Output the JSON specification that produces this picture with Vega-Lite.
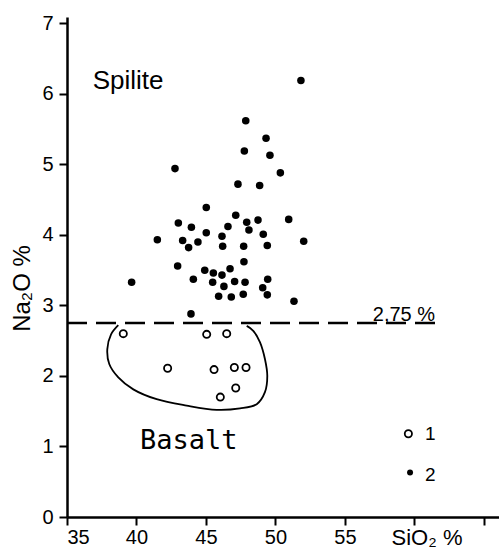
{
  "$schema": "https://vega.github.io/schema/vega-lite/v6.json",
  "autosize": {"type": "none"},
  "padding": {"left": 67, "top": 17, "right": 0, "bottom": 34},
  "width": 432,
  "height": 500,
  "background": "white",
  "config": {"view": {"stroke": null}, "font": "Liberation Sans"},
  "encoding": {
    "x": {"field": "x", "type": "quantitative",
      "scale": {"domain": [35, 66.08], "nice": false, "zero": false},
      "axis": {"values": [35, 40, 45, 50, 55, 60, 65], "grid": false, "title": null,
        "labelExpr": "datum.value == 60 ? 'SiO₂ %' : (datum.value == 65 ? '' : datum.label)",
        "labelFontSize": {"condition": {"test": "datum.value == 60", "value": 22}, "value": 20},
        "labelOffset": {"condition": {"test": "datum.value == 60", "value": 12}, "value": 0},
        "labelColor": "black", "labelFont": "Liberation Sans", "labelPadding": 2,
        "domainColor": "black", "domainWidth": 2.5, "tickColor": "black", "tickWidth": 2, "tickSize": 8}},
    "y": {"field": "y", "type": "quantitative",
      "scale": {"domain": [0, 7.09], "nice": false, "zero": false},
      "axis": {"values": [0, 1, 2, 3, 4, 5, 6, 7], "grid": false,
        "title": "Na₂O %", "titleFont": "Liberation Sans", "titleFontSize": 24, "titleFontWeight": "normal",
        "titleColor": "black", "titleX": -45, "titleY": 271, "titleAlign": "center", "titleBaseline": "middle", "titleAngle": -90,
        "labelColor": "black", "labelFont": "Liberation Sans", "labelFontSize": 20, "labelPadding": 6,
        "domainColor": "black", "domainWidth": 2.5, "tickColor": "black", "tickWidth": 2, "tickSize": 8}}
  },
  "layer": [
    {
      "data": {"values": [{"x": 35, "x2": 62, "y": 2.75}]},
      "mark": {"type": "rule", "stroke": "black", "strokeWidth": 2.5, "strokeDash": [20, 9]},
      "encoding": {"x2": {"field": "x2"}}
    },
    {
      "data": {"values": [
        {"o": 1, "x": 38.69, "y": 2.72},
        {"o": 2, "x": 38.17, "y": 2.59},
        {"o": 3, "x": 37.90, "y": 2.38},
        {"o": 4, "x": 38.04, "y": 2.17},
        {"o": 5, "x": 38.69, "y": 1.98},
        {"o": 6, "x": 39.77, "y": 1.81},
        {"o": 7, "x": 41.45, "y": 1.67},
        {"o": 8, "x": 43.61, "y": 1.58},
        {"o": 9, "x": 45.77, "y": 1.52},
        {"o": 10, "x": 47.45, "y": 1.54},
        {"o": 11, "x": 48.65, "y": 1.60},
        {"o": 12, "x": 49.24, "y": 1.77},
        {"o": 13, "x": 49.41, "y": 2.00},
        {"o": 14, "x": 49.24, "y": 2.24},
        {"o": 15, "x": 48.88, "y": 2.48},
        {"o": 16, "x": 48.40, "y": 2.64},
        {"o": 17, "x": 47.93, "y": 2.71}
      ]},
      "mark": {"type": "line", "stroke": "black", "strokeWidth": 1.8, "interpolate": "catmull-rom"},
      "encoding": {"order": {"field": "o", "type": "quantitative"}}
    },
    {
      "data": {"values": [
        {"x": 47.86, "y": 5.62}, {"x": 49.32, "y": 5.37}, {"x": 47.76, "y": 5.19}, {"x": 49.6, "y": 5.13},
        {"x": 42.77, "y": 4.94}, {"x": 50.35, "y": 4.88}, {"x": 47.30, "y": 4.72}, {"x": 48.86, "y": 4.70},
        {"x": 51.83, "y": 6.19}, {"x": 45.02, "y": 4.39}, {"x": 47.14, "y": 4.28}, {"x": 43.01, "y": 4.17},
        {"x": 43.95, "y": 4.11}, {"x": 47.93, "y": 4.18}, {"x": 48.74, "y": 4.21}, {"x": 50.95, "y": 4.22},
        {"x": 46.58, "y": 4.12}, {"x": 48.09, "y": 4.07}, {"x": 45.02, "y": 4.03}, {"x": 41.50, "y": 3.93},
        {"x": 43.32, "y": 3.92}, {"x": 44.42, "y": 3.90}, {"x": 43.75, "y": 3.82}, {"x": 46.15, "y": 3.98},
        {"x": 46.20, "y": 3.84}, {"x": 47.71, "y": 3.84}, {"x": 49.12, "y": 4.01}, {"x": 49.41, "y": 3.85},
        {"x": 52.03, "y": 3.91}, {"x": 47.73, "y": 3.62}, {"x": 42.96, "y": 3.56}, {"x": 44.91, "y": 3.50},
        {"x": 45.53, "y": 3.46}, {"x": 46.15, "y": 3.43}, {"x": 46.73, "y": 3.52}, {"x": 44.09, "y": 3.37},
        {"x": 45.48, "y": 3.33}, {"x": 47.06, "y": 3.34}, {"x": 47.81, "y": 3.33}, {"x": 49.44, "y": 3.37},
        {"x": 46.29, "y": 3.27}, {"x": 49.08, "y": 3.25}, {"x": 45.91, "y": 3.13}, {"x": 46.82, "y": 3.12},
        {"x": 47.68, "y": 3.16}, {"x": 49.41, "y": 3.15}, {"x": 51.33, "y": 3.06}, {"x": 43.92, "y": 2.88},
        {"x": 39.65, "y": 3.33}
      ]},
      "mark": {"type": "point", "shape": "circle", "filled": true, "fill": "black", "opacity": 1, "size": 57}
    },
    {
      "data": {"values": [
        {"x": 39.05, "y": 2.60}, {"x": 45.05, "y": 2.59}, {"x": 46.49, "y": 2.60},
        {"x": 42.24, "y": 2.11}, {"x": 45.58, "y": 2.09}, {"x": 47.04, "y": 2.12},
        {"x": 47.88, "y": 2.12}, {"x": 47.14, "y": 1.83}, {"x": 46.03, "y": 1.70}
      ]},
      "mark": {"type": "point", "shape": "circle", "filled": false, "stroke": "black", "strokeWidth": 1.8, "opacity": 1, "size": 52}
    },
    {
      "data": {"values": [{"x": 59.56, "y": 1.18}]},
      "mark": {"type": "point", "shape": "circle", "filled": false, "stroke": "black", "strokeWidth": 1.8, "opacity": 1, "size": 52}
    },
    {
      "data": {"values": [{"x": 59.68, "y": 0.63}]},
      "mark": {"type": "point", "shape": "circle", "filled": true, "fill": "black", "opacity": 1, "size": 36}
    },
    {
      "data": {"values": [{"x": 60.76, "y": 1.17, "t": "1"}, {"x": 60.76, "y": 0.59, "t": "2"}]},
      "mark": {"type": "text", "align": "left", "baseline": "middle", "fontSize": 19, "font": "Liberation Sans", "color": "black"},
      "encoding": {"text": {"field": "t"}}
    },
    {
      "data": {"values": [{"x": 36.85, "y": 6.07, "t": "Spilite"}]},
      "mark": {"type": "text", "align": "left", "baseline": "alphabetic", "fontSize": 26, "font": "Liberation Sans", "color": "black"},
      "encoding": {"text": {"field": "t"}}
    },
    {
      "data": {"values": [{"x": 40.25, "y": 0.96, "t": "Basalt"}]},
      "mark": {"type": "text", "align": "left", "baseline": "alphabetic", "fontSize": 27, "font": "DejaVu Sans Mono", "color": "black"},
      "encoding": {"text": {"field": "t"}}
    },
    {
      "data": {"values": [{"x": 59.24, "y": 2.78, "t": "2,75 %"}]},
      "mark": {"type": "text", "align": "center", "baseline": "alphabetic", "fontSize": 20, "font": "Liberation Sans", "color": "black"},
      "encoding": {"text": {"field": "t"}}
    }
  ]
}
